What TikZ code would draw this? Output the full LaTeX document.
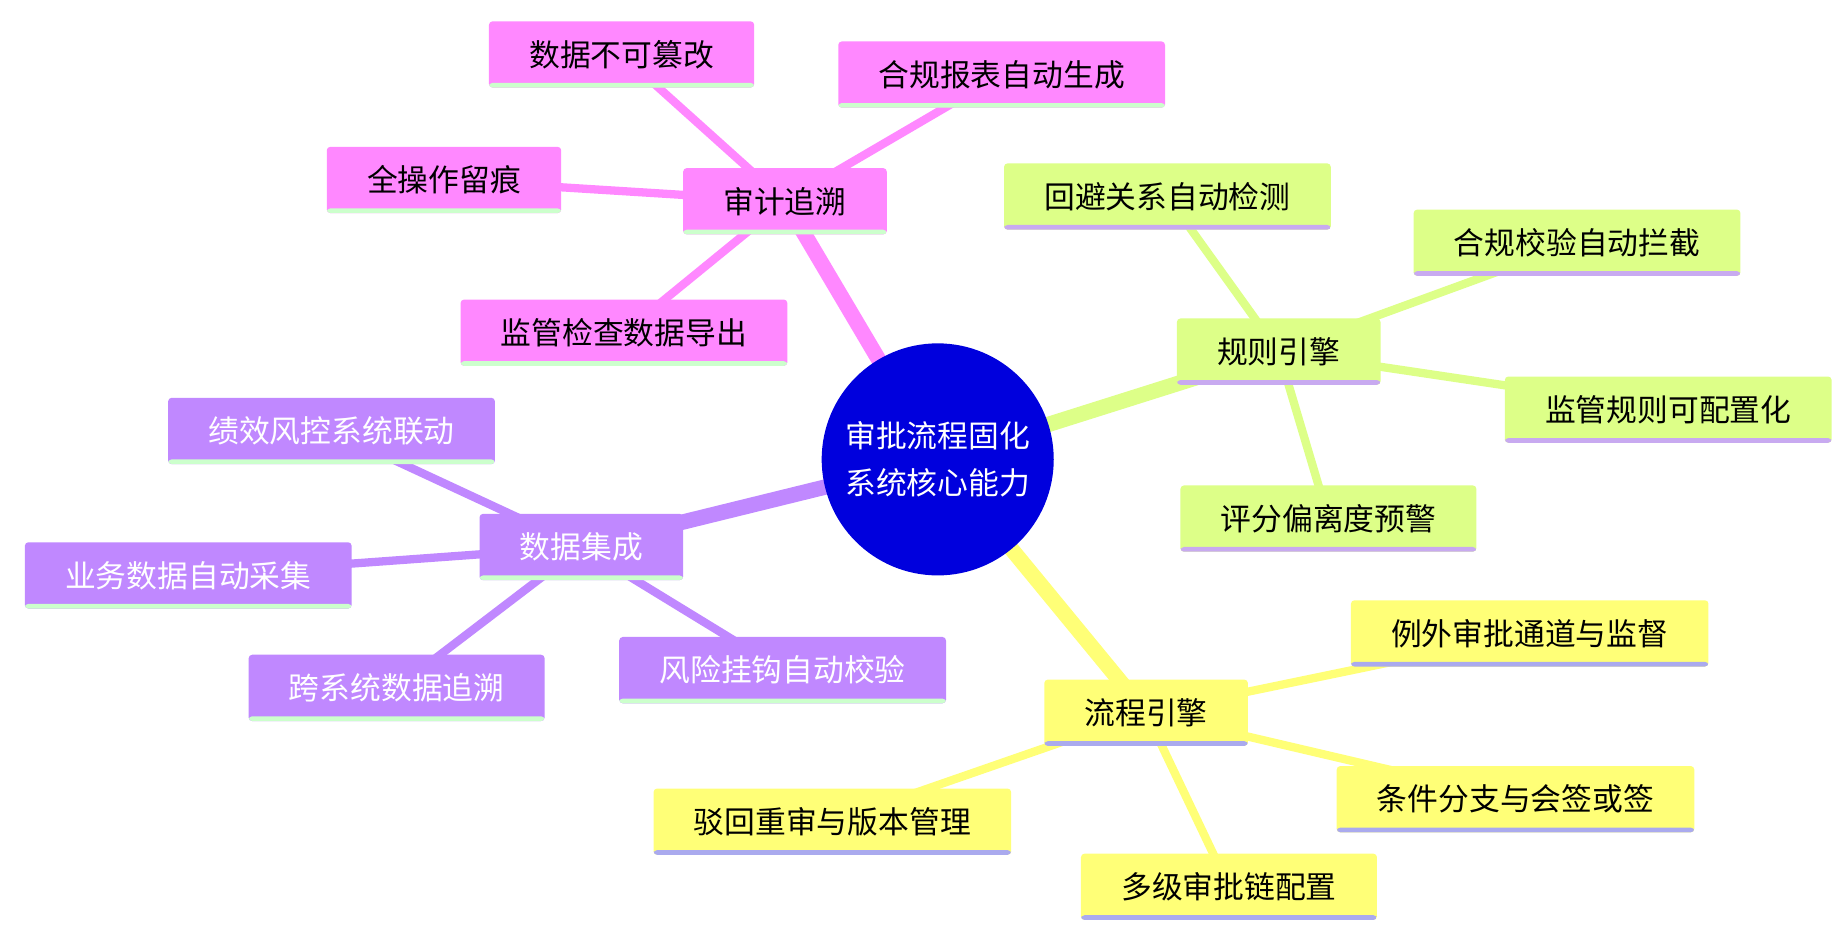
\documentclass[tikz,border=0pt]{standalone}
\usepackage{fontspec}
\newfontfamily\cjk{Noto Sans CJK SC}
\usetikzlibrary{backgrounds}
\definecolor{cM}{HTML}{FF88FF}
\definecolor{cG}{HTML}{DDFF88}
\definecolor{cY}{HTML}{FFFF77}
\definecolor{cP}{HTML}{C088FF}
\definecolor{uG}{HTML}{CCFFCC}
\definecolor{uP}{HTML}{C8AAF0}
\definecolor{uB}{HTML}{AAAAEE}
\definecolor{cC}{HTML}{0000DD}
\tikzset{
 box/.style 2 args={fill=#1,rounded corners=3pt,inner xsep=34pt,minimum height=56pt,
   font=\cjk\fontsize{26}{30}\selectfont,
   path picture={\fill[#2] ([yshift=4pt]path picture bounding box.south west) rectangle (path picture bounding box.south east);}},
 mbox/.style={box={cM}{uG}},
 gbox/.style={box={cG}{uP}},
 ybox/.style={box={cY}{uB}},
 pbox/.style={box={cP}{uG},text=white},
 trunk/.style={line width=13pt},
 twig/.style={line width=7pt},
}
\begin{document}
\begin{tikzpicture}[x=1pt,y=-1pt]
\useasboundingbox (0,0) rectangle (1560,791);
\node[circle,fill=cC,minimum size=196pt,text=white,align=center,font=\cjk\fontsize{26}{40}\selectfont] (c) at (792,388) {审批流程固化\\系统核心能力};
\node[mbox] (a) at (663,170) {审计追溯};
\node[mbox] (a1) at (525,46) {数据不可篡改};
\node[mbox] (a2) at (846,63) {合规报表自动生成};
\node[mbox] (a3) at (375,152) {全操作留痕};
\node[mbox] (a4) at (527,281) {监管检查数据导出};
\node[gbox] (r) at (1080,297) {规则引擎};
\node[gbox] (r1) at (986,166) {回避关系自动检测};
\node[gbox] (r2) at (1332,205) {合规校验自动拦截};
\node[gbox] (r3) at (1409,346) {监管规则可配置化};
\node[gbox] (r4) at (1122,438) {评分偏离度预警};
\node[ybox] (f) at (968,602) {流程引擎};
\node[ybox] (f1) at (1292,535) {例外审批通道与监督};
\node[ybox] (f2) at (1280,675) {条件分支与会签或签};
\node[ybox] (f3) at (1038,749) {多级审批链配置};
\node[ybox] (f4) at (703,694) {驳回重审与版本管理};
\node[pbox] (d) at (491,462) {数据集成};
\node[pbox] (d1) at (280,364) {绩效风控系统联动};
\node[pbox] (d2) at (159,486) {业务数据自动采集};
\node[pbox] (d3) at (335,581) {跨系统数据追溯};
\node[pbox] (d4) at (661,566) {风险挂钩自动校验};
\begin{scope}[on background layer]
\fill[white] (0,0) rectangle (1560,791);
\draw[cM,trunk] (c.center) -- (a.center);
\foreach \n in {a1,a2,a3,a4} \draw[cM,twig] (a.center) -- (\n.center);
\draw[cG,trunk] (c.center) -- (r.center);
\foreach \n in {r1,r2,r3,r4} \draw[cG,twig] (r.center) -- (\n.center);
\draw[cY,trunk] (c.center) -- (f.center);
\foreach \n in {f1,f2,f3,f4} \draw[cY,twig] (f.center) -- (\n.center);
\draw[cP,trunk] (c.center) -- (d.center);
\foreach \n in {d1,d2,d3,d4} \draw[cP,twig] (d.center) -- (\n.center);
\end{scope}
\end{tikzpicture}
\end{document}
